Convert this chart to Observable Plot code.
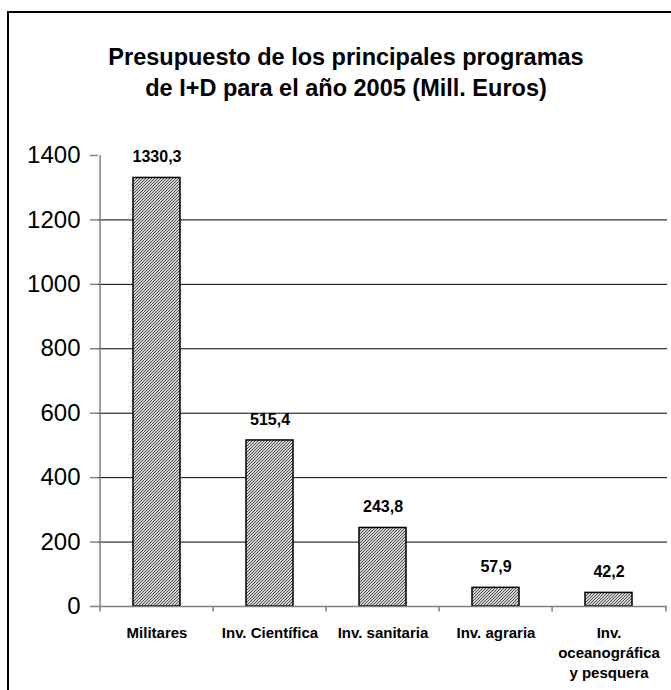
<!DOCTYPE html>
<html>
<head>
<meta charset="utf-8">
<script src="https://cdn.jsdelivr.net/npm/d3@7"></script>
<script src="https://cdn.jsdelivr.net/npm/@observablehq/plot@0.6"></script>
<style>
  html, body { margin: 0; padding: 0; background: #fff; overflow: hidden; }
  #wrap { position: relative; width: 671px; height: 690px; overflow: hidden; font-family: "Liberation Sans", Arial, sans-serif; }
  #border { position: absolute; left: 7px; top: 11px; width: 720px; height: 720px; border: 2px solid #000; box-sizing: border-box; }
  #title { position: absolute; left: 0; width: 692px; top: 42px; text-align: center; font-weight: bold; font-size: 23.5px; line-height: 31px; color: #000; }
  #chart { position: absolute; left: 0; top: 0; }
</style>
</head>
<body>
<div id="wrap">
  <div id="border"></div>
  <div id="title">Presupuesto de los principales programas<br>de I+D para el año 2005 (Mill. Euros)</div>
  <div id="chart"></div>
</div>
<script>
const categories = ["Militares", "Inv. Científica", "Inv. sanitaria", "Inv. agraria", "Inv. oceanográfica y pesquera"];
const axisLabels = ["Militares", "Inv. Científica", "Inv. sanitaria", "Inv. agraria", "Inv.\noceanográfica\ny pesquera"];
const values = [1330.3, 515.4, 243.8, 57.9, 42.2];
const valueLabels = ["1330,3", "515,4", "243,8", "57,9", "42,2"];
const yTicks = [0, 200, 400, 600, 800, 1000, 1200, 1400];
const gridValues = [200, 400, 600, 800, 1000, 1200];

const data = categories.map((c, i) => ({cat: c, value: values[i], label: valueLabels[i], axis: axisLabels[i]}));

const W = 671, H = 690, mL = 98, mR = 4, mT = 155, mB = 84;
const step = (W - mL - mR) / categories.length;

const chart = Plot.plot({
  width: W, height: H,
  marginLeft: mL, marginRight: mR, marginTop: mT, marginBottom: mB,
  style: {fontFamily: "'Liberation Sans', Arial, sans-serif", background: "transparent", overflow: "visible"},
  x: {domain: categories, padding: 0, axis: null},
  y: {domain: [0, 1400], axis: null},
  marks: [
    Plot.ruleY(gridValues, {stroke: "#000", strokeWidth: 1}),
    Plot.barY(data, {x: "cat", y: "value", fill: "url(#hatch)", stroke: "#000", strokeWidth: 1.5, insetLeft: 33, insetRight: 33}),
    Plot.text(data, {x: "cat", y: "value", text: "label", dy: -21, fontWeight: "bold", fontSize: 16, fill: "#000"}),
    Plot.ruleX([categories[0]], {x: d => d, dx: -step / 2, y1: 0, y2: 1400, stroke: "#808080", strokeWidth: 1.5}),
    Plot.ruleY([0], {stroke: "#808080", strokeWidth: 1.5}),
    Plot.ruleX(categories, {x: d => d, dx: -step / 2, y1: 0, y2: -17, stroke: "#808080", strokeWidth: 1.5}),
    Plot.ruleX([categories[categories.length - 1]], {x: d => d, dx: step / 2, y1: 0, y2: -17, stroke: "#808080", strokeWidth: 1.5}),
    Plot.axisY(yTicks, {label: null, tickSize: 8, tickPadding: 10, fontSize: 24, stroke: "#808080", strokeWidth: 1.5, color: "#000", tickFormat: d => String(d)}),
    Plot.text(data, {x: "cat", y: 0, text: "axis", dy: 17, lineHeight: 1.35, lineAnchor: "top", fontWeight: "bold", fontSize: 15, fill: "#000"})
  ]
});

const ns = "http://www.w3.org/2000/svg";
const defs = document.createElementNS(ns, "defs");
defs.innerHTML = `<pattern id="hatch" patternUnits="userSpaceOnUse" width="3" height="3">
  <rect width="3" height="3" fill="#d6d6d6"></rect>
  <path d="M-1,1 L1,-1 M0,3 L3,0 M2,4 L4,2" stroke="#3c3c3c" stroke-width="0.9"></path>
</pattern>`;
chart.insertBefore(defs, chart.firstChild);
document.getElementById("chart").appendChild(chart);
</script>
</body>
</html>
